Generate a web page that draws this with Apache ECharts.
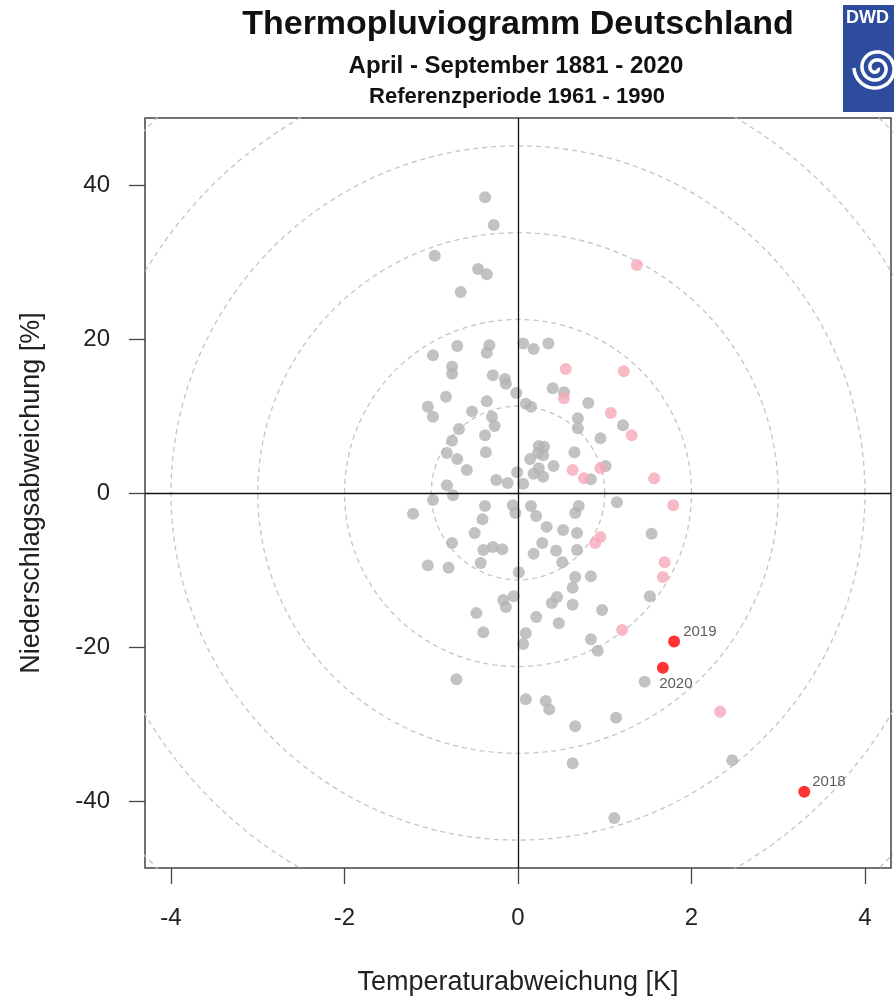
<!DOCTYPE html>
<html>
<head>
<meta charset="utf-8">
<title>Thermopluviogramm Deutschland</title>
<script src="https://cdn.jsdelivr.net/npm/echarts@6/dist/echarts.min.js"></script>
<style>
  html, body { margin: 0; padding: 0; background: #fff; }
  #main { width: 894px; height: 1003px; }
</style>
</head>
<body>
<div id="main"></div>
<script>
// Abweichungen April-September, Referenz 1961-1990
// x: Temperatur [K], y: Niederschlag [%]
const grayX = [-0.38, -0.28, -0.96, -0.46, -0.36, -0.66, -0.70, -0.33, -0.36, 0.06,
  0.18, 0.35, -0.98, -0.76, -0.76, -0.29, -0.15, -0.14, 0.40, 0.53,
  -0.02, -0.83, -0.36, 0.09, 0.15, -1.04, -0.98, -0.53, -0.30, -0.27,
  0.69, 0.69, -0.68, -0.38, -0.76, 0.24, 0.30, 0.23, 0.29, -0.37,
  0.65, -0.82, -0.70, 0.14, 0.24, 0.18, 0.29, 0.41, -0.59, -0.01,
  -0.25, -0.12, 0.06, -0.82, -0.75, -0.98, -0.38, -0.06, 0.15, 0.70,
  -1.21, -0.41, -0.03, 0.21, 0.66, 0.33, 0.52, 0.68, -0.50, -0.76,
  0.28, -0.40, -0.29, -0.18, 0.44, 0.68, 0.18, 0.51, -1.04, -0.80,
  -0.43, 0.01, 0.66, 0.63, -0.05, -0.17, -0.14, 0.45, 0.39, 0.63,
  -0.48, 0.21, 0.47, -0.40, 0.09, 0.06, -0.71, 0.09, 0.32, 0.36,
  0.66, 0.63, 0.81, 1.21, 0.95, 1.01, 0.84, 1.14, 1.54, 0.84,
  1.52, 0.97, 0.84, 0.92, 1.46, 1.13, 2.47, 1.11];
const grayY = [38.4, 34.8, 30.8, 29.1, 28.4, 26.1, 19.1, 19.2, 18.2, 19.4,
  18.7, 19.4, 17.9, 16.4, 15.5, 15.3, 14.8, 14.2, 13.6, 13.1,
  13.0, 12.5, 11.9, 11.6, 11.2, 11.2, 9.9, 10.6, 9.9, 8.7,
  9.7, 8.4, 8.3, 7.5, 6.8, 6.1, 6.0, 5.2, 4.9, 5.3,
  5.3, 5.2, 4.4, 4.4, 3.2, 2.5, 2.1, 3.5, 3.0, 2.7,
  1.7, 1.3, 1.2, 1.0, -0.3, -0.9, -1.7, -1.6, -1.7, -1.7,
  -2.7, -3.4, -2.6, -3.0, -2.6, -4.4, -4.8, -5.2, -5.2, -6.5,
  -6.5, -7.4, -7.0, -7.3, -7.5, -7.4, -7.9, -9.0, -9.4, -9.7,
  -9.1, -10.3, -10.9, -12.3, -13.4, -13.9, -14.8, -13.5, -14.3, -14.5,
  -15.6, -16.1, -16.9, -18.1, -18.2, -19.6, -24.2, -26.8, -27.0, -28.1,
  -30.3, -35.1, 11.7, 8.8, 7.1, 3.5, 1.8, -1.2, -5.3, -10.8,
  -13.4, -15.2, -19.0, -20.5, -24.5, -29.2, -34.7, -42.2];

const pinkX = [1.37, 0.55, 1.22, 0.53, 1.07, 1.31, 0.63, 0.95, 0.76, 1.57,
  1.79, 0.95, 0.89, 1.69, 1.67, 1.20, 2.33];
const pinkY = [29.6, 16.1, 15.8, 12.3, 10.4, 7.5, 3.0, 3.2, 1.9, 1.9,
  -1.6, -5.7, -6.5, -9.0, -10.9, -17.8, -28.4];

const redYears = ['2018', '2019', '2020'];
const redX = [3.30, 1.80, 1.67];
const redY = [-38.8, -19.3, -22.7];

const xTicks = [-4, -2, 0, 2, 4];
const yTicks = [-40, -20, 0, 20, 40];

// Kreise in Einheiten der Standardabweichung
const ringRadii = [1, 2, 3, 4, 5, 6];
const ringStepX = 1.0;
const ringStepY = 11.27;

const chart = echarts.init(document.getElementById('main'));

const pts = (xs, ys) => xs.map((x, i) => [x, ys[i]]);

const ringSeries = ringRadii.map((r, k) => {
  const d = [];
  for (let a = 0; a <= 360; a += 2) {
    const t = a * Math.PI / 180;
    d.push([r * ringStepX * Math.cos(t), r * ringStepY * Math.sin(t)]);
  }
  const s = {
    type: 'line', data: d, showSymbol: false, silent: true, z: 1,
    lineStyle: { color: '#c4c4c4', width: 1.3, type: [5, 4] }
  };
  if (k === 0) {
    s.markLine = {
      silent: true, symbol: 'none', label: { show: false },
      lineStyle: { color: '#111', width: 1.3, type: 'solid' },
      data: [{ xAxis: 0 }, { yAxis: 0 }]
    };
  }
  return s;
});

const labelPos = {
  '2018': { position: 'right', offset: [-1, -10] },
  '2019': { position: 'right', offset: [0, -10] },
  '2020': { position: 'bottom', offset: [13, 0] }
};

// DWD Logo Spirale
const spiral = [];
for (let a = 0; a <= 900; a += 6) {
  const t = a * Math.PI / 180;
  const r = 2 + 20 * a / 900;
  spiral.push([876 + r * Math.cos(t), 68 + r * Math.sin(t)]);
}

chart.setOption({
  animation: false,
  textStyle: { fontFamily: 'Liberation Sans, Arial, sans-serif' },
  grid: { left: 145, right: 3, top: 118, bottom: 135, show: true, borderColor: '#444', borderWidth: 1.5 },
  xAxis: {
    type: 'value', min: -4.3, max: 4.3,
    name: 'Temperaturabweichung [K]', nameLocation: 'middle', nameGap: 101,
    nameTextStyle: { fontSize: 27, color: '#222' },
    splitLine: { show: false },
    axisLine: { show: false, onZero: false },
    axisTick: { show: true, length: 16, customValues: xTicks, lineStyle: { color: '#444', width: 1.3 } },
    axisLabel: { customValues: xTicks, fontSize: 24, color: '#222', margin: 38 }
  },
  yAxis: {
    type: 'value', min: -48.7, max: 48.7,
    name: 'Niederschlagsabweichung [%]', nameLocation: 'middle', nameGap: 100,
    nameTextStyle: { fontSize: 27, color: '#222' },
    splitLine: { show: false },
    axisLine: { show: false, onZero: false },
    axisTick: { show: true, length: 16, customValues: yTicks, lineStyle: { color: '#444', width: 1.3 } },
    axisLabel: { customValues: yTicks, fontSize: 24, color: '#222', margin: 35 }
  },
  series: ringSeries.concat([
    {
      type: 'scatter', data: pts(grayX, grayY), symbolSize: 12, z: 3,
      itemStyle: { color: '#b3b3b3' }
    },
    {
      type: 'scatter', data: pts(pinkX, pinkY), symbolSize: 12, z: 4,
      itemStyle: { color: '#f6a9b8' }
    },
    {
      type: 'scatter', symbolSize: 12, z: 5,
      itemStyle: { color: '#ff0000' },
      data: redYears.map((y, i) => ({
        value: [redX[i], redY[i]],
        label: Object.assign({ show: true, formatter: y, fontSize: 15, color: '#333', distance: 3 }, labelPos[y])
      }))
    }
  ]),
  graphic: [
    { type: 'text', x: 518, y: 25, style: { text: 'Thermopluviogramm Deutschland', font: 'bold 34px Liberation Sans, Arial', fill: '#111', align: 'center', verticalAlign: 'middle' } },
    { type: 'text', x: 516, y: 66, style: { text: 'April - September 1881 - 2020', font: 'bold 24px Liberation Sans, Arial', fill: '#111', align: 'center', verticalAlign: 'middle' } },
    { type: 'text', x: 517, y: 97, style: { text: 'Referenzperiode 1961 - 1990', font: 'bold 22px Liberation Sans, Arial', fill: '#111', align: 'center', verticalAlign: 'middle' } },
    { type: 'rect', shape: { x: 843, y: 5, width: 60, height: 107 }, style: { fill: '#2d4c9e' } },
    { type: 'text', x: 846, y: 18, style: { text: 'DWD', font: 'bold 18px Liberation Sans, Arial', fill: '#fff', align: 'left', verticalAlign: 'middle' } },
    { type: 'polyline', shape: { points: spiral }, style: { stroke: '#fff', lineWidth: 3.5, fill: null } }
  ]
});
</script>
</body>
</html>
